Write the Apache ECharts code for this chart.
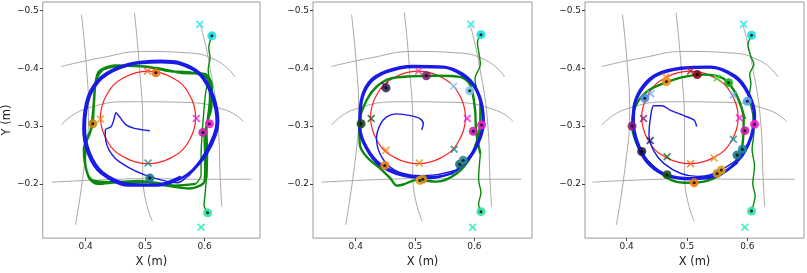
<!DOCTYPE html>
<html>
<head>
<meta charset="utf-8">
<script src="https://cdn.jsdelivr.net/npm/echarts@6/dist/echarts.min.js"></script>
<style>
  html, body { margin: 0; padding: 0; background: #fff; }
  #chart { width: 807px; height: 273px; }
</style>
</head>
<body>
<div id="chart"></div>
<script>
// tick labels
const xTicks = [0.4, 0.5, 0.6];
const yTicks = [-0.5, -0.4, -0.3, -0.2];

// distorted workspace grid (gray), same in all three panels
const gridTop = [[0.359, -0.403], [0.426, -0.418], [0.498, -0.429], [0.565, -0.427], [0.621, -0.413], [0.651, -0.385]];
const gridMid = [[0.359, -0.302], [0.398, -0.329], [0.482, -0.342], [0.565, -0.341], [0.637, -0.327], [0.665, -0.308]];
const gridBot = [[0.343, -0.203], [0.426, -0.207], [0.509, -0.209], [0.593, -0.208], [0.679, -0.208]];
const gridLeft = [[0.393, -0.493], [0.401, -0.407], [0.405, -0.324], [0.399, -0.241], [0.383, -0.129]];
const gridCenter = [[0.482, -0.496], [0.490, -0.407], [0.496, -0.296], [0.496, -0.213], [0.512, -0.135]];
const gridRight = [[0.593, -0.474], [0.608, -0.407], [0.623, -0.296], [0.626, -0.213], [0.629, -0.160]];

// reference circle (red)
const refCircle = [
  [0.585, -0.315], [0.582, -0.294], [0.574, -0.275], [0.562, -0.258], [0.545, -0.246], [0.526, -0.238],
  [0.505, -0.235], [0.484, -0.238], [0.465, -0.246], [0.448, -0.258], [0.436, -0.275], [0.428, -0.294],
  [0.425, -0.315], [0.428, -0.336], [0.436, -0.355], [0.448, -0.372], [0.465, -0.384], [0.484, -0.392],
  [0.505, -0.395], [0.526, -0.392], [0.545, -0.384], [0.562, -0.372], [0.574, -0.355], [0.582, -0.336],
  [0.585, -0.315]
];

// panel 1
const blueStart1 = [
  [0.508, -0.292], [0.482, -0.296], [0.468, -0.302], [0.457, -0.316], [0.451, -0.323], [0.448, -0.313],
  [0.443, -0.299], [0.433, -0.293], [0.434, -0.274], [0.448, -0.246], [0.471, -0.229], [0.498, -0.216],
  [0.526, -0.207], [0.554, -0.202], [0.571, -0.213]
];
const blueLoop1 = [
  [0.571, -0.213], [0.604, -0.252], [0.623, -0.307], [0.615, -0.352], [0.593, -0.391], [0.559, -0.410],
  [0.526, -0.413], [0.471, -0.407], [0.426, -0.385], [0.404, -0.352], [0.396, -0.296], [0.404, -0.252],
  [0.426, -0.218], [0.471, -0.197], [0.521, -0.197],
  [0.569, -0.215], [0.601, -0.254], [0.620, -0.307], [0.612, -0.351], [0.591, -0.389], [0.558, -0.407],
  [0.526, -0.410], [0.472, -0.405], [0.428, -0.383], [0.407, -0.351], [0.399, -0.297], [0.407, -0.254],
  [0.429, -0.220], [0.472, -0.200], [0.520, -0.199], [0.560, -0.213]
];
const greenIn1 = [
  [0.612, -0.456], [0.607, -0.435], [0.609, -0.418], [0.606, -0.398], [0.607, -0.384], [0.602, -0.360],
  [0.599, -0.330], [0.596, -0.290], [0.594, -0.250], [0.594, -0.215], [0.585, -0.200]
];
const greenLoop1 = [
  [0.585, -0.200], [0.550, -0.197], [0.510, -0.203], [0.460, -0.203], [0.420, -0.200], [0.405, -0.212],
  [0.397, -0.260], [0.408, -0.290], [0.413, -0.330], [0.416, -0.370], [0.423, -0.395], [0.450, -0.405],
  [0.500, -0.403], [0.540, -0.395], [0.580, -0.392], [0.605, -0.382], [0.609, -0.350], [0.605, -0.310],
  [0.600, -0.280], [0.601, -0.240], [0.600, -0.205], [0.575, -0.192], [0.530, -0.198], [0.490, -0.205],
  [0.440, -0.203], [0.410, -0.207], [0.399, -0.240], [0.400, -0.270], [0.411, -0.300], [0.414, -0.340],
  [0.418, -0.380], [0.430, -0.398], [0.470, -0.404], [0.520, -0.400], [0.560, -0.392], [0.600, -0.390],
  [0.612, -0.370], [0.611, -0.330], [0.603, -0.300], [0.604, -0.250], [0.603, -0.210]
];
const greenOut1 = [[0.603, -0.210], [0.601, -0.185], [0.599, -0.163], [0.605, -0.150]];
const targets1 = [[0.592, -0.476], [0.594, -0.125], [0.504, -0.395], [0.425, -0.312], [0.586, -0.313], [0.505, -0.236]];
const targetColors1 = ['#19e6e6', '#1de9b6', '#f2602a', '#f0901e', '#f01fd0', '#1a8a8a'];
const actuals1 = [[0.612, -0.456], [0.605, -0.150], [0.518, -0.392], [0.412, -0.304], [0.608, -0.304], [0.597, -0.289], [0.508, -0.210]];
const actualColors1 = ['#19e0e6', '#33e0a0', '#e8731a', '#c8860a', '#f01fd0', '#d01fb0', '#1a7a8a'];

// panel 2
const blueStart2 = [
  [0.511, -0.293], [0.514, -0.304], [0.508, -0.313], [0.492, -0.318], [0.469, -0.321], [0.452, -0.316],
  [0.441, -0.302], [0.435, -0.279], [0.441, -0.252], [0.458, -0.229], [0.480, -0.218], [0.508, -0.214],
  [0.537, -0.216], [0.570, -0.224]
];
const blueLoop2 = [
  [0.570, -0.224], [0.598, -0.257], [0.614, -0.307], [0.607, -0.352], [0.587, -0.382], [0.548, -0.401],
  [0.497, -0.402], [0.452, -0.393], [0.424, -0.374], [0.410, -0.341], [0.408, -0.296], [0.419, -0.263],
  [0.441, -0.235], [0.480, -0.216], [0.525, -0.212],
  [0.568, -0.222], [0.600, -0.256], [0.616, -0.306], [0.609, -0.352], [0.589, -0.384], [0.548, -0.403],
  [0.497, -0.404], [0.451, -0.395], [0.422, -0.376], [0.408, -0.341], [0.406, -0.296], [0.417, -0.262],
  [0.439, -0.233], [0.479, -0.214], [0.525, -0.210], [0.565, -0.219]
];
const greenIn2 = [
  [0.611, -0.458], [0.605, -0.445], [0.607, -0.430], [0.610, -0.407], [0.601, -0.382], [0.604, -0.363]
];
const greenLoop2 = [
  [0.604, -0.363], [0.610, -0.340], [0.610, -0.318], [0.607, -0.285], [0.593, -0.246], [0.570, -0.218],
  [0.537, -0.204], [0.503, -0.207], [0.480, -0.199], [0.469, -0.197], [0.458, -0.210], [0.441, -0.227],
  [0.419, -0.246], [0.407, -0.268], [0.406, -0.307], [0.419, -0.346], [0.435, -0.368], [0.458, -0.382],
  [0.492, -0.386], [0.537, -0.387], [0.576, -0.385], [0.593, -0.371], [0.601, -0.329], [0.603, -0.290],
  [0.610, -0.252]
];
const greenOut2 = [[0.610, -0.252], [0.607, -0.207], [0.611, -0.185], [0.607, -0.165], [0.611, -0.152]];
const targets2 = [[0.594, -0.476], [0.597, -0.125], [0.506, -0.395], [0.449, -0.370], [0.565, -0.369], [0.426, -0.313],
  [0.588, -0.313], [0.451, -0.258], [0.507, -0.236], [0.566, -0.260]];
const targetColors2 = ['#19e6e6', '#1de9b6', '#e040a0', '#3a1f5e', '#7cc8f0', '#1a5e20', '#f01fd0', '#ff7f0e', '#e08a20', '#1a8a8a'];
const actuals2 = [[0.611, -0.458], [0.611, -0.152], [0.519, -0.387], [0.451, -0.366], [0.592, -0.361], [0.409, -0.304],
  [0.612, -0.302], [0.598, -0.291], [0.449, -0.232], [0.508, -0.206], [0.513, -0.208], [0.575, -0.234], [0.581, -0.241]];
const actualColors2 = ['#19e0e6', '#33e0a0', '#7a2a6a', '#3b2a5a', '#7fc8f0', '#1a4a1a', '#f01fd0', '#d01fb0',
  '#f0821e', '#e0a020', '#d09020', '#1a7080', '#2a8a9a'];

// panel 3
const blueStart3 = [
  [0.516, -0.299], [0.512, -0.310], [0.495, -0.318], [0.473, -0.327], [0.459, -0.335], [0.445, -0.335],
  [0.440, -0.318], [0.437, -0.285], [0.445, -0.257], [0.462, -0.235], [0.490, -0.218], [0.517, -0.213],
  [0.545, -0.218], [0.583, -0.241]
];
const blueLoop3 = [
  [0.583, -0.241], [0.603, -0.274], [0.611, -0.318], [0.600, -0.357], [0.578, -0.385], [0.539, -0.401],
  [0.490, -0.399], [0.451, -0.388], [0.429, -0.368], [0.415, -0.341], [0.412, -0.307], [0.418, -0.274],
  [0.434, -0.241], [0.462, -0.218], [0.506, -0.210], [0.550, -0.216],
  [0.585, -0.240], [0.605, -0.275], [0.613, -0.318], [0.602, -0.358], [0.580, -0.387], [0.539, -0.403],
  [0.490, -0.401], [0.450, -0.390], [0.427, -0.370], [0.413, -0.341], [0.410, -0.307], [0.416, -0.273],
  [0.432, -0.239], [0.461, -0.216], [0.506, -0.208], [0.551, -0.214], [0.584, -0.237]
];
const greenRail3 = [
  [0.607, -0.457], [0.601, -0.440], [0.606, -0.420], [0.611, -0.407], [0.604, -0.390], [0.606, -0.374],
  [0.603, -0.350], [0.609, -0.320], [0.611, -0.290], [0.608, -0.260], [0.612, -0.230], [0.609, -0.200],
  [0.613, -0.180], [0.607, -0.153]
];
const greenLoop3 = [
  [0.569, -0.375], [0.583, -0.352], [0.594, -0.313], [0.592, -0.268], [0.578, -0.235], [0.556, -0.216],
  [0.528, -0.204], [0.495, -0.202], [0.473, -0.207], [0.451, -0.224], [0.429, -0.246], [0.415, -0.274],
  [0.409, -0.302], [0.415, -0.335], [0.434, -0.360], [0.462, -0.374], [0.495, -0.385], [0.528, -0.389],
  [0.561, -0.382], [0.583, -0.352], [0.596, -0.312]
];
const targets3 = [[0.594, -0.476], [0.596, -0.125], [0.506, -0.395], [0.465, -0.385], [0.550, -0.383], [0.440, -0.356],
  [0.577, -0.354], [0.428, -0.313], [0.587, -0.314], [0.439, -0.275], [0.577, -0.277], [0.467, -0.247],
  [0.506, -0.235], [0.545, -0.245]];
const targetColors3 = ['#19e6e6', '#1de9b6', '#b01a3a', '#ff9020', '#40e040', '#6ab0ff', '#6aa8e8', '#8a1a6a',
  '#f01fd0', '#1a1a6a', '#1a8a8a', '#1a6a2a', '#ff6a1a', '#e0901a'];
const actuals3 = [[0.607, -0.457], [0.607, -0.153], [0.517, -0.389], [0.466, -0.377], [0.569, -0.375], [0.430, -0.348],
  [0.600, -0.343], [0.409, -0.300], [0.612, -0.303], [0.596, -0.292], [0.425, -0.256], [0.592, -0.260],
  [0.583, -0.250], [0.467, -0.216], [0.512, -0.202], [0.557, -0.224], [0.550, -0.218]];
const actualColors3 = ['#19e0e6', '#33e0a0', '#8a0a1a', '#f0901e', '#20b020', '#4a90e0', '#5aa0f0', '#8a1a8a',
  '#f01fd0', '#d01fb0', '#1a1a5a', '#1a8a9a', '#1a7a8a', '#1a5a1a', '#f07a1a', '#e0a020', '#d09020'];

const panels = [
  { thinGreen: [greenIn1, greenOut1], thickGreen: [greenLoop1], blueStart: blueStart1, blueLoop: blueLoop1,
    targets: targets1, tColors: targetColors1, actuals: actuals1, aColors: actualColors1 },
  { thinGreen: [greenIn2, greenOut2], thickGreen: [greenLoop2], blueStart: blueStart2, blueLoop: blueLoop2,
    targets: targets2, tColors: targetColors2, actuals: actuals2, aColors: actualColors2 },
  { thinGreen: [greenRail3], thickGreen: [greenLoop3], blueStart: blueStart3, blueLoop: blueLoop3,
    targets: targets3, tColors: targetColors3, actuals: actuals3, aColors: actualColors3 }
];

const gridLefts = [41, 313, 585];
const xRanges = [[0.328, 0.693], [0.328, 0.697], [0.331, 0.694]];
const crossPath = 'path://M0,1.5 L1.5,0 L5,3.5 L8.5,0 L10,1.5 L6.5,5 L10,8.5 L8.5,10 L5,6.5 L1.5,10 L0,8.5 L3.5,5 Z';
const fmt = v => v.toFixed(1).replace('-', '\u2212');
const font = 'DejaVu Sans';

const chart = echarts.init(document.getElementById('chart'), null, { renderer: 'canvas' });

let grids = [], xAxes = [], yAxes = [], series = [];
gridLefts.forEach((left, i) => {
  grids.push({ left: left, top: 2, width: 219, height: 245, show: true, borderColor: '#9a9a9a', borderWidth: 1 });
  xAxes.push({
    gridIndex: i, type: 'value', min: xRanges[i][0], max: xRanges[i][1],
    name: 'X (m)', nameLocation: 'middle', nameGap: 17,
    nameTextStyle: { fontFamily: font, fontSize: 11.5, color: '#222' },
    axisLine: { show: false }, splitLine: { show: false },
    axisTick: { show: true, length: 3, customValues: xTicks, lineStyle: { color: '#444' } },
    axisLabel: { customValues: xTicks, formatter: fmt, margin: 4, fontFamily: font, fontSize: 9, color: '#222' }
  });
  yAxes.push({
    gridIndex: i, type: 'value', min: -0.5145, max: -0.1063, inverse: true,
    name: i === 0 ? 'Y (m)' : '', nameLocation: 'middle', nameGap: 27,
    nameTextStyle: { fontFamily: font, fontSize: 11.5, color: '#222' },
    axisLine: { show: false }, splitLine: { show: false },
    axisTick: { show: true, length: 3, customValues: yTicks, lineStyle: { color: '#444' } },
    axisLabel: { customValues: yTicks, formatter: fmt, margin: 4, fontFamily: font, fontSize: 9, color: '#222' }
  });

  const line = (data, color, width, smooth, z) => ({
    type: 'line', xAxisIndex: i, yAxisIndex: i, data: data, symbol: 'none', smooth: smooth,
    lineStyle: { color: color, width: width }, z: z, silent: true, animation: false
  });
  const p = panels[i];
  [gridTop, gridMid, gridBot, gridLeft, gridCenter, gridRight].forEach(g => series.push(line(g, '#a8a8a8', 1, true, 1)));
  series.push(line(refCircle, '#ff2020', 1.2, true, 2));
  p.thinGreen.forEach(g => series.push(line(g, '#0a8a0a', 1.4, 0.3, 3)));
  p.thickGreen.forEach(g => series.push(line(g, '#0a8a0a', 2.4, 0.3, 3)));
  series.push(line(p.blueStart, '#1a1ae6', 1.4, 0.3, 4));
  series.push(line(p.blueLoop, '#1a1ae6', 2.2, 0.3, 4));

  series.push({
    type: 'scatter', xAxisIndex: i, yAxisIndex: i, data: p.targets, symbol: crossPath, symbolSize: 8, z: 5,
    itemStyle: { color: q => p.tColors[q.dataIndex] }, animation: false
  });
  series.push({
    type: 'scatter', xAxisIndex: i, yAxisIndex: i, data: p.actuals, symbol: 'circle', symbolSize: 9, z: 6,
    itemStyle: { color: q => p.aColors[q.dataIndex], opacity: 0.9 }, animation: false
  });
  series.push({
    type: 'scatter', xAxisIndex: i, yAxisIndex: i, data: p.actuals, symbol: 'circle', symbolSize: 3, z: 7,
    itemStyle: { color: '#000' }, animation: false
  });
});

chart.setOption({
  animation: false,
  backgroundColor: '#fff',
  grid: grids,
  xAxis: xAxes,
  yAxis: yAxes,
  series: series
});
</script>
</body>
</html>
